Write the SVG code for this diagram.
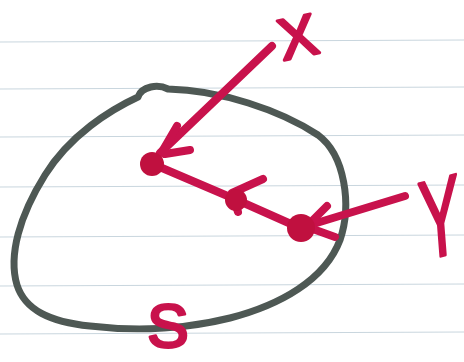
<svg xmlns="http://www.w3.org/2000/svg" width="464" height="362" viewBox="0 0 464 362">
<style>
.rule{stroke:#c9d6de;stroke-width:1.2}
.ink{stroke:#c8124c;stroke-width:8;stroke-linecap:round;stroke-linejoin:round;fill:none}
.dot{fill:#c0103f}
.lbl{font-family:"Liberation Sans",Arial,sans-serif;fill:#c8124c;stroke:#c8124c;stroke-width:3;stroke-linejoin:round}
</style>
<rect width="464" height="362" fill="#ffffff"/>
<g id="paper">
<line class="rule" x1="0" y1="42" x2="464" y2="40"/>
<line class="rule" x1="0" y1="89" x2="464" y2="87"/>
<line class="rule" x1="0" y1="137" x2="464" y2="135"/>
<line class="rule" x1="0" y1="187" x2="464" y2="185"/>
<line class="rule" x1="0" y1="237" x2="464" y2="235"/>
<line class="rule" x1="0" y1="286" x2="464" y2="284"/>
<line class="rule" x1="0" y1="334" x2="464" y2="332"/>
</g>
<g id="S-set">
<path d="M138,97 C142,86 158,84 168,89 C220,90 280,110 318,135 C345,155 352,205 340,240 C325,280 280,305 230,318 C190,328 140,332 90,326 C50,322 25,310 17,285 C8,255 20,215 45,175 C70,135 110,110 138,97 Z" fill="none" stroke="#4e5854" stroke-width="7" stroke-linejoin="round"/>
<text class="lbl" x="168" y="347" font-size="62" text-anchor="middle">S</text>
</g>
<g id="connectors">
<path class="ink" d="M272,46 L160,153"/>
<path class="ink" d="M177,126 L163,150 M190,150 L165,154"/>
<path class="ink" d="M155,165 L237,200 L300,228"/>
<path class="ink" d="M263,179 L232,193 M232,193 L238,212"/>
<path class="ink" d="M405,196 L310,225"/>
<path class="ink" d="M327,206 L308,225 M335,237 L310,228"/>
</g>
<g id="node-X">
<text class="lbl" x="298" y="57" font-size="58" text-anchor="middle" transform="rotate(-12 298 38)">X</text>
</g>
<g id="node-Y">
<text class="lbl" x="440" y="256" font-size="112" text-anchor="middle" transform="translate(440 0) scale(0.55 1) translate(-440 0) rotate(-8 440 215)">Y</text>
</g>
<g id="node-1"><circle class="dot" cx="152" cy="164" r="12"/></g>
<g id="node-2"><circle class="dot" cx="236" cy="200" r="11"/></g>
<g id="node-3"><circle class="dot" cx="301" cy="228" r="14"/></g>
</svg>
